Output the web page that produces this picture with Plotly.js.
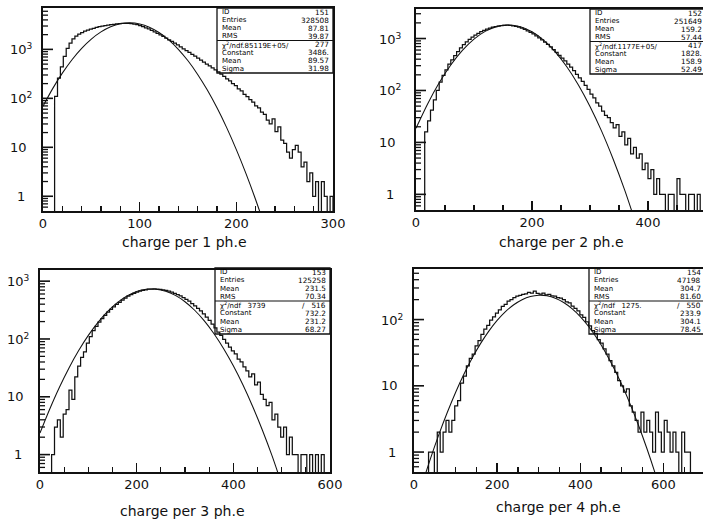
<!DOCTYPE html>
<html><head><meta charset="utf-8">
<script src="https://cdn.plot.ly/plotly-3.0.1.min.js"></script>
<style>html,body{margin:0;padding:0;background:#fff;overflow:hidden;width:703px;height:522px}#chart{width:710px;height:522px}</style>
</head><body><div id="chart"></div><script>
// ---------------- data ----------------
// histogram 1: charge per 1 ph.e, bins of 3 starting at 0
const h1Start = 0, h1Width = 3;
const h1Counts = [0,0,0,0,110,260,440,720,1050,1350,1640,1860,2040,2200,2350,2480,2600,2700,2800,2900,
2980,3050,3120,3190,3250,3300,3350,3390,3410,3390,3360,3290,3190,3060,2910,2760,2610,2450,2290,2130,
1980,1840,1700,1570,1450,1340,1230,1130,1030,945,865,790,725,660,600,552,500,458,418,380,
348,312,282,250,228,200,182,156,142,120,108,94,84,70,64,52,47,36,30,38,
21,26,14,12,8,6,9,11,8,4,5,2,3,1,2,0,2,1,0,1];
// histogram 2: charge per 2 ph.e, bins of 5
const h2Start = 0, h2Width = 5;
const h2Counts = [0,0,0,16,26,42,66,100,145,195,250,320,390,470,560,660,760,860,960,1060,
1160,1260,1360,1440,1520,1590,1650,1700,1740,1770,1800,1810,1790,1760,1720,1660,1590,1500,1410,1320,
1230,1130,1030,940,850,770,690,610,540,475,420,370,320,280,240,205,175,150,125,105,
85,72,58,50,40,33,30,24,19,22,13,16,9,12,6,8,5,6,3,4,
2,3,1,2,1,1,0,1,1,0,2,1,1,0,1,1,0,1,0,0];
// histogram 3: charge per 3 ph.e, bins of 6
const h3Start = 0, h3Width = 6;
const h3Counts = [0,0,0,0,1,3,4,2,5,6,13,9,22,34,48,60,85,110,140,165,
195,225,255,290,325,360,395,430,470,510,550,585,615,645,670,695,710,725,730,735,
728,720,705,690,670,645,615,585,555,520,485,450,410,375,340,305,272,240,210,180,
155,132,115,98,85,72,62,55,45,40,33,28,22,25,16,18,11,9,7,8,
4,5,3,2,3,1,2,1,1,0,1,1,0,1,0,1,0,1,0,0];
// histogram 4: charge per 4 ph.e, bins of 7
const h4Start = 0, h4Width = 7;
const h4Counts = [0,0,0,0,0,1,1,0,2,1,2,3,2,3,5,6,11,14,20,26,
30,40,48,60,72,82,98,110,125,140,158,170,190,200,215,225,232,240,245,258,
250,270,248,242,250,235,240,228,225,215,210,200,185,178,160,148,135,118,108,92,
80,68,62,50,44,36,30,24,20,16,12,10,8,9,5,4,3,2,4,2,
3,2,1,4,2,1,3,2,1,2,1,0,2,1,1,0,0,0,0,0];

// fitted gaussian curves, values read at regular x steps
const g1Start = 0, g1Step = 10;
const g1Values = [69,158,327,615,1048,1621,2273,2891,3334,3486,3305,2842,2216,1568,1005,585,308,147.5,64,25.2,8.97,2.90,0.85,0.226];
const g2Start = 0, g2Step = 20;
const g2Values = [18.7,55.1,140.5,310,591,974,1389,1713,1828,1686,1345,929,554,286,127.7,49.3,16.5,4.75,1.19,0.256];
const g3Start = 0, g3Step = 20;
const g3Values = [2.37,6.1,14.5,31.6,63,115.5,194,300,425,553,660,722,726,670,567,441,314,206,123.5,68,34.4,16,6.8,2.67,0.96,0.31];
const g4Start = 0, g4Step = 20;
const g4Values = [0.128,0.33,0.81,1.85,3.95,7.93,14.9,26.2,43.3,66.9,97,131.6,167.5,199.7,223,233.7,229,210.6,181.4,146.5,110.8,78.5,52.2,32.5,18.9,10.35,5.3,2.54,1.14,0.48,0.19];

// axis ranges and tick labels
const xRanges = [[0,300],[0,500],[0,600],[0,700]];
const yRanges = [[0.5,7000],[0.5,3700],[0.5,1560],[0.5,580]];
const xMajor = [100,200,200,200];
const xMinor = [20,50,50,50];
const yTickVals = [[1,10,100,1000],[1,10,100,1000],[1,10,100,1000],[1,10,100]];
const yTickText = [["1","10","10<sup>2</sup>","10<sup>3</sup>"],["1","10","10<sup>2</sup>","10<sup>3</sup>"],["1","10","10<sup>2</sup>","10<sup>3</sup>"],["1","10","10<sup>2</sup>"]];
const titles = ["charge per 1 ph.e","charge per 2 ph.e","charge per 3 ph.e","charge per 4 ph.e"];

// statistics boxes
const statLabels = [
 ["ID","Entries","Mean","RMS","χ<sup>2</sup>/ndf.85119E+05/","Constant","Mean","Sigma"],
 ["ID","Entries","Mean","RMS","χ<sup>2</sup>/ndf.1177E+05/","Constant","Mean","Sigma"],
 ["ID","Entries","Mean","RMS","χ<sup>2</sup>/ndf\u00a0\u00a0\u00a03739","Constant","Mean","Sigma"],
 ["ID","Entries","Mean","RMS","χ<sup>2</sup>/ndf\u00a0\u00a0\u00a01275.","Constant","Mean","Sigma"]];
const statValues = [
 ["151","328508","87.81","39.87","277","3486.","89.57","31.98"],
 ["152","251649","159.2","57.44","417","1828.","158.9","52.49"],
 ["153","125258","231.5","70.34","/\u00a0\u00a0\u00a0516","732.2","231.2","68.27"],
 ["154","47198","304.7","81.60","/\u00a0\u00a0\u00a0550","233.9","304.1","78.45"]];

// ---------------- layout geometry (pixels) ----------------
const W = 710, H = 522;
const plotBox = [[43,333,8,211],[416,706,9,210],[40,330,270,472],[414,705,269,472]];
const statBox = [[217,333,8,73],[590,706,9,74],[215,330,268,334],[589,705,268,334]];
const ylabLeft = [8,377,5,379];
const titlePos = [[184,242],[561,242],[182,511],[558,507]];
const majorLenPx = 10, minorLenPx = 5;
const INK = '#111';
const px = v => v / W, py = v => 1 - v / H;

const hist = [[h1Start,h1Width,h1Counts],[h2Start,h2Width,h2Counts],[h3Start,h3Width,h3Counts],[h4Start,h4Width,h4Counts]];
const gaus = [[g1Start,g1Step,g1Values],[g2Start,g2Step,g2Values],[g3Start,g3Step,g3Values],[g4Start,g4Step,g4Values]];

function logMinorTicks(range) {
  const out = [];
  for (let e = -1; e <= 4; e++) for (let d = 2; d <= 9; d++) {
    const v = d * Math.pow(10, e);
    if (v > range[0] && v < range[1]) out.push(v);
  }
  return out;
}

const traces = [], layout = {
  width: W, height: H, margin:{l:0,r:0,t:0,b:0}, paper_bgcolor:'#fff', plot_bgcolor:'#fff',
  showlegend:false, shapes:[], annotations:[], font:{family:'DejaVu Sans', color:INK}
};

for (let k = 0; k < 4; k++) {
  const sfx = k === 0 ? '' : String(k+1);
  const xa = 'x'+sfx, ya = 'y'+sfx;
  const [l, r, t, b] = plotBox[k];
  const x0 = xRanges[k][0], unitsPerPx = (xRanges[k][1] - xRanges[k][0]) / (r - l);

  const [s, w, c] = hist[k];
  const hx = [], hy = [];
  c.forEach((v,i) => { hx.push(s + i*w); hy.push(v > 0 ? v : 1e-3); });
  hx.push(s + c.length*w); hy.push(1e-3);
  traces.push({type:'scatter', mode:'lines', x:hx, y:hy, xaxis:xa, yaxis:ya,
    line:{shape:'hv', color:INK, width:1.25}, hoverinfo:'skip'});
  const [gs, gst, gv] = gaus[k];
  traces.push({type:'scatter', mode:'lines', x:gv.map((_,i)=>gs+i*gst), y:gv, xaxis:xa, yaxis:ya,
    line:{shape:'spline', smoothing:0.8, color:INK, width:1.05}, hoverinfo:'skip'});

  // left-axis tick marks drawn as short segments on the panel's own axes
  const tx = [], ty = [], mx = [], my = [];
  yTickVals[k].forEach(v => { tx.push(x0, x0 + majorLenPx*unitsPerPx, null); ty.push(v, v, null); });
  logMinorTicks(yRanges[k]).forEach(v => { mx.push(x0, x0 + minorLenPx*unitsPerPx, null); my.push(v, v, null); });
  traces.push({type:'scatter', mode:'lines', x:tx, y:ty, xaxis:xa, yaxis:ya, connectgaps:false,
    line:{color:INK, width:1.6}, hoverinfo:'skip'});
  traces.push({type:'scatter', mode:'lines', x:mx, y:my, xaxis:xa, yaxis:ya, connectgaps:false,
    line:{color:INK, width:1.3}, hoverinfo:'skip'});

  layout['xaxis'+sfx] = {domain:[px(l), px(r)], range:xRanges[k], anchor:ya,
    showline:true, mirror:true, linecolor:INK, linewidth:1.6, showgrid:false, zeroline:false,
    ticks:'inside', ticklen:9, tickwidth:1.4, tickcolor:INK, tickmode:'linear', tick0:0, dtick:xMajor[k],
    minor:{ticks:'inside', ticklen:5, tickwidth:1.2, tickcolor:INK, dtick:xMinor[k], tick0:0, showgrid:false},
    tickfont:{family:'DejaVu Sans', size:13, color:INK}, fixedrange:true};
  layout['yaxis'+sfx] = {domain:[py(b), py(t)], type:'log', range:yRanges[k].map(Math.log10), anchor:xa,
    showline:true, mirror:true, linecolor:INK, linewidth:1.6, showgrid:false, zeroline:false,
    ticks:'', showticklabels:false, fixedrange:true};

  yTickVals[k].forEach((v,i) => {
    const txt = yTickText[k][i];
    layout.annotations.push({xref:'paper', yref:ya, x:px(txt === '1' ? ylabLeft[k]+7 : ylabLeft[k]), y:Math.log10(v),
      text:txt, showarrow:false, xanchor:'left', yanchor:'middle',
      font:{family:'DejaVu Sans', size:13, color:INK}});
  });

  layout.annotations.push({xref:'paper', yref:'paper', x:px(titlePos[k][0]), y:py(titlePos[k][1]),
    text:titles[k], showarrow:false, xanchor:'center', yanchor:'middle',
    font:{family:'DejaVu Sans', size:14, color:INK}});

  const [bl, br, bt, bb] = statBox[k];
  layout.shapes.push({type:'rect', xref:'paper', yref:'paper', x0:px(bl), x1:px(br), y0:py(bb), y1:py(bt),
    line:{color:INK, width:1.3}, fillcolor:'rgba(0,0,0,0)'});
  const pitch = (bb - bt) / 8;
  layout.shapes.push({type:'line', xref:'paper', yref:'paper', x0:px(bl), x1:px(br), y0:py(bt+4*pitch), y1:py(bt+4*pitch),
    line:{color:INK, width:1.2}});
  statLabels[k].forEach((lab,i) => {
    const yy = py(bt + pitch*(i+0.5));
    layout.annotations.push({xref:'paper', yref:'paper', x:px(bl+3), y:yy, text:lab, showarrow:false,
      xanchor:'left', yanchor:'middle', font:{family:'DejaVu Sans', size:7, color:'#000'}});
    layout.annotations.push({xref:'paper', yref:'paper', x:px(br-2), y:yy, text:statValues[k][i], showarrow:false,
      xanchor:'right', yanchor:'middle', font:{family:'DejaVu Sans', size:7.3, color:'#000'}});
  });
}

Plotly.newPlot('chart', traces, layout, {staticPlot:true, displayModeBar:false});
</script></body></html>
